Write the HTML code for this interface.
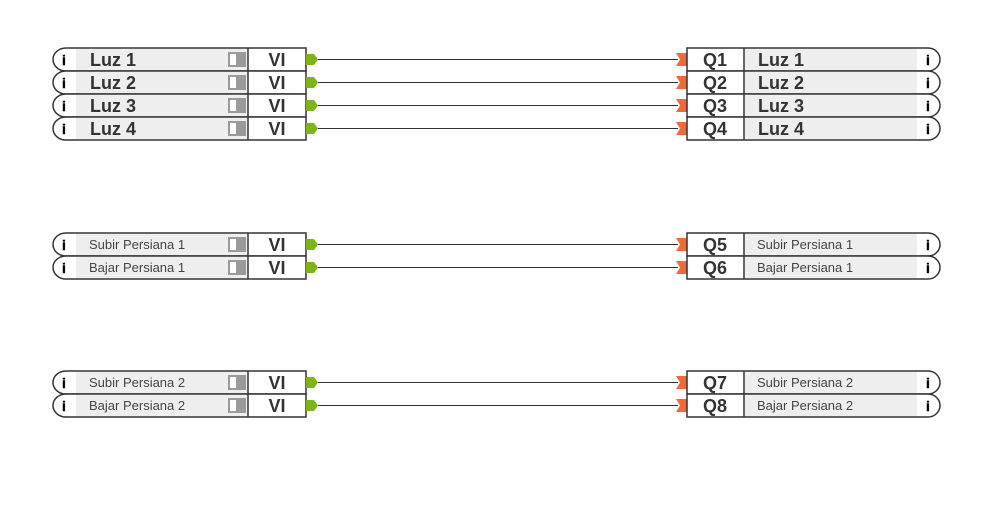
<!DOCTYPE html>
<html><head><meta charset="utf-8"><style>
html,body{margin:0;padding:0;background:#fff;}
svg{display:block;font-family:"Liberation Sans",Arial,sans-serif;}
.o{fill:#fff;stroke:#333;stroke-width:1.5}
.g{fill:#eee}
.d{stroke:#333;stroke-width:1.5}
.i{font-weight:bold;font-size:14px;fill:#000;text-anchor:middle;stroke:#000;stroke-width:0.4}
.b{font-weight:bold;font-size:18px;fill:#333}
.c{text-anchor:middle}
.s{font-size:13px;fill:#444}
</style></head><body>
<svg width="994" height="512" viewBox="0 0 994 512">
<defs>
<g id="L">
<path class="o" d="M66 0H306V23H66A13 11.5 0 0 1 66 0Z"/>
<rect class="g" x="76" y="1" width="172" height="21"/>
<line class="d" x1="248" y1="0" x2="248" y2="23"/>
<text class="i" x="64" y="17">i</text>
<rect x="228" y="4" width="18" height="15" fill="#9a9a9a"/>
<rect x="230" y="6" width="6" height="11" fill="#fff"/>
<text class="b c" x="277" y="18">VI</text>
<path d="M306 6H314L318 11.5L314 17H306Z" fill="#7cb518"/>
<line x1="318" y1="11.5" x2="678" y2="11.5" stroke="#333" stroke-width="1"/>
<path d="M676 5H687V18H676L680 11.5Z" fill="#f26a3c"/>
<path class="o" d="M687 0H928A12 11.5 0 0 1 928 23H687Z"/>
<rect class="g" x="745" y="1" width="172" height="21"/>
<line class="d" x1="744" y1="0" x2="744" y2="23"/>
<text class="i" x="928" y="17">i</text>
</g>
</defs>
<g transform="translate(0,48)"><use href="#L"/><text class="b" x="90" y="18">Luz 1</text><text class="b c" x="715" y="18">Q1</text><text class="b" x="758" y="18">Luz 1</text></g>
<g transform="translate(0,71)"><use href="#L"/><text class="b" x="90" y="18">Luz 2</text><text class="b c" x="715" y="18">Q2</text><text class="b" x="758" y="18">Luz 2</text></g>
<g transform="translate(0,94)"><use href="#L"/><text class="b" x="90" y="18">Luz 3</text><text class="b c" x="715" y="18">Q3</text><text class="b" x="758" y="18">Luz 3</text></g>
<g transform="translate(0,117)"><use href="#L"/><text class="b" x="90" y="18">Luz 4</text><text class="b c" x="715" y="18">Q4</text><text class="b" x="758" y="18">Luz 4</text></g>
<g transform="translate(0,233)"><use href="#L"/><text class="s" x="89" y="16">Subir Persiana 1</text><text class="b c" x="715" y="18">Q5</text><text class="s" x="757" y="16">Subir Persiana 1</text></g>
<g transform="translate(0,256)"><use href="#L"/><text class="s" x="89" y="16">Bajar Persiana 1</text><text class="b c" x="715" y="18">Q6</text><text class="s" x="757" y="16">Bajar Persiana 1</text></g>
<g transform="translate(0,371)"><use href="#L"/><text class="s" x="89" y="16">Subir Persiana 2</text><text class="b c" x="715" y="18">Q7</text><text class="s" x="757" y="16">Subir Persiana 2</text></g>
<g transform="translate(0,394)"><use href="#L"/><text class="s" x="89" y="16">Bajar Persiana 2</text><text class="b c" x="715" y="18">Q8</text><text class="s" x="757" y="16">Bajar Persiana 2</text></g>
</svg>
</body></html>
